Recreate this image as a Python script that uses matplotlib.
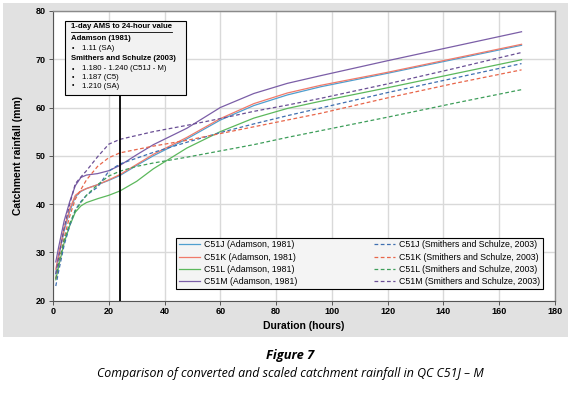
import matplotlib
matplotlib.use("Agg")
import matplotlib.pyplot as plt
from matplotlib.patches import Rectangle
from matplotlib.lines import Line2D

plt.rcParams['font.family'] = ['Liberation Sans', 'DejaVu Sans']

durations = [1, 2, 4, 6, 8, 10, 12, 16, 20, 24, 30, 36, 48, 60, 72, 84, 96, 120, 144, 168]

adamson = {
    'C51J': [25.5, 29, 34.5, 38.5, 41.5, 42.6, 43.2, 44, 44.9, 45.9, 48, 50, 53.5, 57.4, 60.4, 62.6, 64.3, 67.1, 70.0, 72.9],
    'C51K': [26.5, 29.5, 35, 39, 41.8, 42.7, 43.2, 44, 45, 46.1, 48.2, 50.3, 53.8, 57.7, 60.8, 63.0, 64.6, 67.3, 70.2, 73.1],
    'C51L': [24.3, 27, 32, 35.5, 38.3, 39.6, 40.3, 41.1, 41.8, 42.7, 44.7, 47.3, 51.6, 55.0, 57.8, 59.8, 61.3, 64.1, 67.0, 69.9],
    'C51M': [28, 31, 36.5, 40.5, 43.8, 45.5, 46, 46.3, 46.9, 48, 50.2, 52.3, 55.7, 60.0, 62.9, 65.0, 66.6, 69.7, 72.7, 75.7],
}
smithers = {
    'C51J': [23, 26, 31.5, 35.5, 38.8, 40.5, 41.8, 43.5, 46.8, 48.3, 49.5, 50.7, 52.8, 54.8, 56.6, 58.3, 59.9, 63.1, 66.1, 69.1],
    'C51K': [24.5, 27.5, 33, 37.5, 41, 43, 45, 47.8, 49.6, 50.6, 51.3, 52, 53.2, 54.6, 56.0, 57.4, 58.8, 62, 65, 67.8],
    'C51L': [24.5, 27.5, 32.5, 36, 38.6, 40.3, 41.8, 44, 45.8, 46.8, 47.8, 48.5, 49.7, 51.0, 52.3, 53.8, 55.2, 58.0, 60.9, 63.7],
    'C51M': [25.5, 29, 35, 40, 44.2, 45.6, 46.9, 49.8, 52.4, 53.4, 54.2, 55, 56.3, 57.7, 59.2, 60.5, 61.9, 64.9, 68.1, 71.4],
}
solid_colors = {'C51J': '#4f9fcf', 'C51K': '#f07a6a', 'C51L': '#5cb85c', 'C51M': '#7b5ea7'}
dash_colors = {'C51J': '#3f6fb0', 'C51K': '#e8664a', 'C51L': '#3e9e5a', 'C51M': '#6a4f95'}

x_ticks = [0, 20, 40, 60, 80, 100, 120, 140, 160, 180]
y_ticks = [20, 30, 40, 50, 60, 70, 80]

box_lines = [
    ('1-day AMS to 24-hour value', 'head'),
    ('Adamson (1981)', 'bold'),
    ('1.11 (SA)', 'bullet'),
    ('Smithers and Schulze (2003)', 'bold'),
    ('1.180 - 1.240 (C51J - M)', 'bullet'),
    ('1.187 (C5)', 'bullet'),
    ('1.210 (SA)', 'bullet'),
]

W, H = 580, 395
fig = plt.figure(figsize=(W / 100, H / 100), dpi=100)
fig.patch.set_facecolor('white')

def fx(px):
    return px / W

def fy(py):
    return 1 - py / H

# gray panel
fig.patches.append(Rectangle((fx(3), fy(337)), fx(568) - fx(3), fy(3) - fy(337),
                             transform=fig.transFigure, facecolor='#e1e1e1',
                             edgecolor='none', zorder=-5))

ax = fig.add_axes([fx(53), fy(300.5), fx(555) - fx(53), fy(11) - fy(300.5)])
ax.set_zorder(1)
ax.set_facecolor('white')
ax.set_xlim(0, 180)
ax.set_ylim(20, 80)
ax.set_xticks(x_ticks)
ax.set_yticks(y_ticks)
ax.grid(True, color='#d9d9d9', lw=1.0)
ax.set_axisbelow(True)
for lbl in ax.get_xticklabels() + ax.get_yticklabels():
    lbl.set_fontweight('bold')
ax.tick_params(labelsize=6.5, length=3, width=0.7, color='#555555', pad=2)
for s in ['left', 'bottom']:
    ax.spines[s].set_color('#555555')
    ax.spines[s].set_linewidth(0.8)
for s in ['top', 'right']:
    ax.spines[s].set_color('#8a8a8a')
    ax.spines[s].set_linewidth(1.0)

handles = []
for k, v in adamson.items():
    h, = ax.plot(durations, v, color=solid_colors[k], lw=0.9, label=f'{k} (Adamson, 1981)')
    handles.append(h)
for k, v in smithers.items():
    h, = ax.plot(durations, v, color=dash_colors[k], lw=0.9, ls=(0, (3, 2)),
                 label=f'{k} (Smithers and Schulze, 2003)')
    handles.append(h)

ax.plot([24, 24], [20, 63], color='black', lw=1.3, zorder=5)

ax.set_xlabel('Duration (hours)', fontsize=7.5, fontweight='bold', labelpad=3)
ax.set_ylabel('Catchment rainfall (mm)', fontsize=7.5, fontweight='bold', labelpad=9)

leg = ax.legend(handles=handles, ncol=2, loc='lower right', bbox_to_anchor=(0.976, 0.04),
                borderaxespad=0,
                fontsize=6.3, frameon=True, fancybox=False, edgecolor='black',
                facecolor='#f4f4f4', framealpha=1, handlelength=2.4,
                columnspacing=8.7, labelspacing=0.38, borderpad=0.3, handletextpad=0.5)
leg.get_frame().set_linewidth(0.8)

# annotation box
fig.patches.append(Rectangle((fx(65), fy(95)), fx(186) - fx(65), fy(21) - fy(95),
                             transform=fig.transFigure, facecolor='#f2f2f2',
                             edgecolor='black', lw=0.8, zorder=6))
ys = [27, 38.5, 48.5, 59, 69, 77.5, 86]
head_txt = None
for (txt, kind), py in zip(box_lines, ys):
    if kind == 'bullet':
        fig.text(fx(71.5), fy(py), '\u2022', fontsize=5.0, va='center', ha='left', zorder=7)
        fig.text(fx(81.5), fy(py), txt, fontsize=5.6, va='center', ha='left', zorder=7)
    else:
        t = fig.text(fx(71), fy(py), txt, fontsize=5.6, fontweight='bold', va='center',
                     ha='left', zorder=7)
        if kind == 'head':
            head_txt = t

fig.canvas.draw()
bb = head_txt.get_window_extent()
fig.lines.append(Line2D([bb.x0 / W, bb.x1 / W], [fy(31.5), fy(31.5)],
                        transform=fig.transFigure, color='black', lw=0.6, zorder=7))

# caption
fig.text(0.5, fy(356), 'Figure 7', fontsize=9.3, fontweight='bold', style='italic',
         ha='center', va='center', family=['Open Sans', 'DejaVu Sans'])
fig.text(0.5, fy(374), 'Comparison of converted and scaled catchment rainfall in QC C51J \u2013 M',
         fontsize=8.9, style='italic', ha='center', va='center',
         family=['Open Sans', 'DejaVu Sans'])

fig.savefig('out.png', dpi=100)
